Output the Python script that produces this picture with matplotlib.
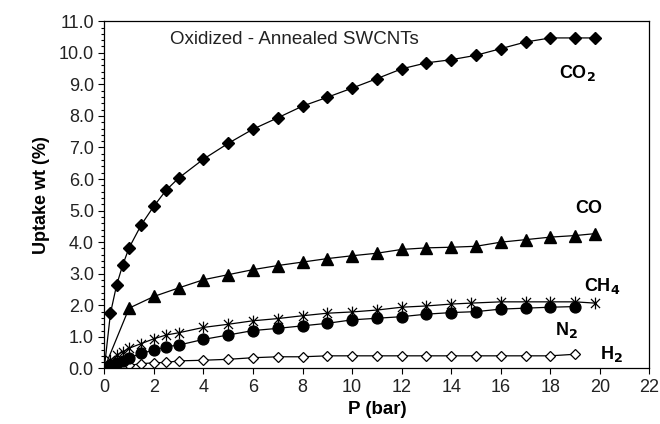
import matplotlib
import numpy as np
import matplotlib.pyplot as plt
from matplotlib.path import Path
from matplotlib.ticker import MultipleLocator, FormatStrFormatter

matplotlib.use('Agg')
plt.rcParams['font.family'] = ['Liberation Sans', 'DejaVu Sans']

# pressure points (bar)
p_low = [0, 0.25, 0.5, 0.75, 1.0, 1.5, 2.0, 2.5, 3.0]
p_high = [4, 5, 6, 7, 8, 9, 10, 11, 12, 13, 14, 15, 16, 17, 18, 19]

p_co2 = p_low + p_high + [19.8]
co2 = [0.0, 1.75, 2.65, 3.29, 3.82, 4.56, 5.14, 5.65, 6.03,
       6.63, 7.13, 7.58, 7.94, 8.31, 8.59, 8.88, 9.18, 9.49, 9.68, 9.78,
       9.92, 10.13, 10.34, 10.47, 10.47, 10.47]

p_co = [0, 1, 2, 3, 4, 5, 6, 7, 8, 9, 10, 11, 12, 13, 14, 15, 16, 17, 18, 19, 19.8]
co = [0.0, 1.91, 2.28, 2.55, 2.81, 2.97, 3.13, 3.26, 3.37, 3.48, 3.57,
      3.65, 3.77, 3.82, 3.84, 3.87, 4.0, 4.08, 4.16, 4.21, 4.27]

p_ch4 = p_low + [4, 5, 6, 7, 8, 9, 10, 11, 12, 13, 14, 14.8, 16, 17, 18, 19, 19.8]
ch4 = [0.0, 0.26, 0.42, 0.53, 0.64, 0.79, 0.94, 1.06, 1.13,
       1.30, 1.40, 1.51, 1.58, 1.67, 1.75, 1.79, 1.85, 1.94, 1.98, 2.04,
       2.07, 2.11, 2.11, 2.11, 2.11, 2.07]

p_n2 = p_low + p_high
n2 = [0.0, 0.11, 0.18, 0.25, 0.33, 0.48, 0.58, 0.69, 0.74,
      0.92, 1.06, 1.20, 1.27, 1.35, 1.43, 1.54, 1.59, 1.64, 1.72, 1.77,
      1.80, 1.88, 1.91, 1.94, 1.96]

p_h2 = p_low + p_high
h2 = [0.0, 0.01, 0.04, 0.07, 0.10, 0.15, 0.18, 0.19, 0.24,
      0.26, 0.29, 0.34, 0.37, 0.37, 0.40, 0.40, 0.40, 0.40, 0.40, 0.40,
      0.40, 0.40, 0.40, 0.40, 0.45]

# excel style asterisk: X plus vertical bar
star = Path([(-1, -1), (1, 1), (-1, 1), (1, -1), (0, -1.3), (0, 1.3)],
            [Path.MOVETO, Path.LINETO, Path.MOVETO, Path.LINETO, Path.MOVETO, Path.LINETO])

fig = plt.figure(figsize=(6.6, 4.24), dpi=100)
ax = fig.add_axes([0.158, 0.131, 0.826, 0.819])

lw = 0.9
ax.plot(p_h2, h2, color='k', lw=lw, marker='D', ms=5.3, mfc='white', mec='k', mew=0.9)
ax.plot(p_n2, n2, color='k', lw=lw, marker='o', ms=7.8, mfc='k', mec='k')
ax.plot(p_ch4, ch4, color='k', lw=lw, marker=star, ms=8.5, mec='k', mew=0.9)
ax.plot(p_co, co, color='k', lw=lw, marker='^', ms=8.3, mfc='k', mec='k')
ax.plot(p_co2, co2, color='k', lw=lw, marker='D', ms=6.2, mfc='k', mec='k')

ax.set_xlim(0, 22)
ax.set_ylim(0, 11)
ax.xaxis.set_major_locator(MultipleLocator(2))
ax.yaxis.set_major_locator(MultipleLocator(1))
ax.yaxis.set_minor_locator(MultipleLocator(0.2))
ax.yaxis.set_major_formatter(FormatStrFormatter('%.1f'))
ax.tick_params(axis='both', which='major', direction='out', length=4, width=0.8,
               labelsize=13, labelcolor='#222222')
ax.tick_params(axis='y', which='minor', direction='out', length=2.5, width=0.8)
for s in ax.spines.values():
    s.set_linewidth(0.9)

ax.set_xlabel('P (bar)', fontsize=13.5, fontweight='bold', labelpad=4)
ax.set_ylabel('Uptake wt (%)', fontsize=13, fontweight='bold', labelpad=6)

ax.text(2.65, 10.43, 'Oxidized - Annealed SWCNTs', fontsize=13.5, va='center', ha='left', color='#222222')

lab = dict(fontsize=13, fontweight='bold', ha='center', va='center')
ax.text(19.1, 9.37, 'CO$_\\mathbf{2}$', **lab)
ax.text(19.56, 5.06, 'CO', **lab)
ax.text(20.1, 2.62, 'CH$_\\mathbf{4}$', **lab)
ax.text(18.65, 1.22, 'N$_\\mathbf{2}$', **lab)
ax.text(20.45, 0.45, 'H$_\\mathbf{2}$', **lab)

fig.savefig('out.png', dpi=100)
